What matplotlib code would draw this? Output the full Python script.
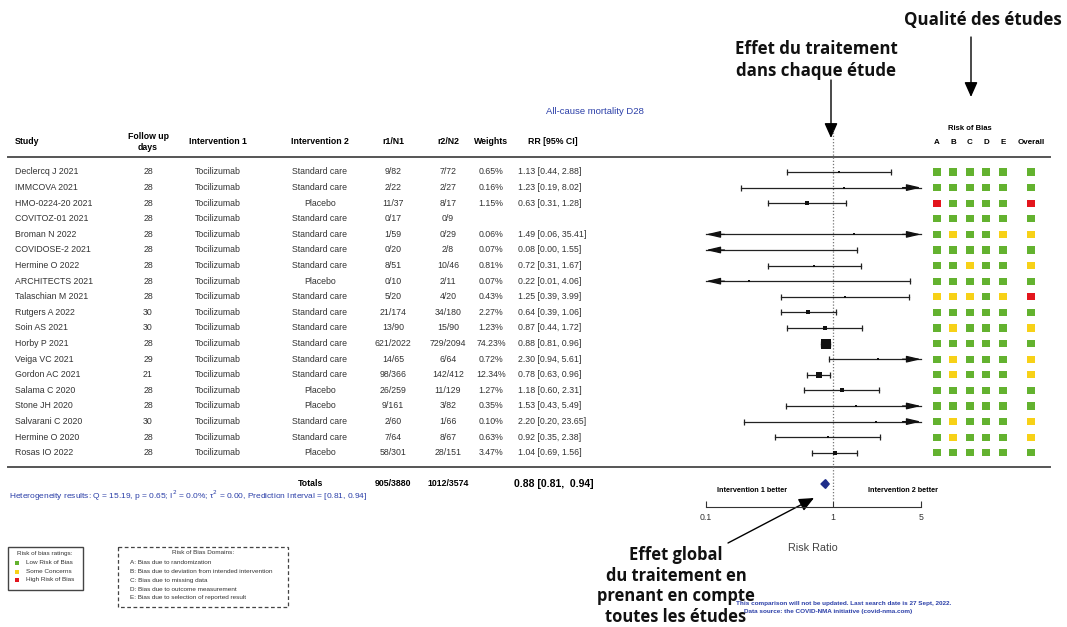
import matplotlib.pyplot as plt
import numpy as np

plt.rcParams['font.family'] = ['Liberation Sans', 'DejaVu Sans']

studies = ['Declercq J 2021', 'IMMCOVA 2021', 'HMO-0224-20 2021', 'COVITOZ-01 2021',
           'Broman N 2022', 'COVIDOSE-2 2021', 'Hermine O 2022', 'ARCHITECTS 2021',
           'Talaschian M 2021', 'Rutgers A 2022', 'Soin AS 2021', 'Horby P 2021',
           'Veiga VC 2021', 'Gordon AC 2021', 'Salama C 2020', 'Stone JH 2020',
           'Salvarani C 2020', 'Hermine O 2020', 'Rosas IO 2022']
follow_up = [28, 28, 28, 28, 28, 28, 28, 28, 28, 30, 30, 28, 29, 21, 28, 28, 30, 28, 28]
intervention1 = ['Tocilizumab'] * 19
intervention2 = ['Standard care', 'Standard care', 'Placebo', 'Standard care', 'Standard care',
                 'Standard care', 'Standard care', 'Placebo', 'Standard care', 'Standard care',
                 'Standard care', 'Standard care', 'Standard care', 'Standard care', 'Placebo',
                 'Placebo', 'Standard care', 'Standard care', 'Placebo']
r1n1 = ['9/82', '2/22', '11/37', '0/17', '1/59', '0/20', '8/51', '0/10', '5/20', '21/174',
        '13/90', '621/2022', '14/65', '98/366', '26/259', '9/161', '2/60', '7/64', '58/301']
r2n2 = ['7/72', '2/27', '8/17', '0/9', '0/29', '2/8', '10/46', '2/11', '4/20', '34/180',
        '15/90', '729/2094', '6/64', '142/412', '11/129', '3/82', '1/66', '8/67', '28/151']
weights = [0.65, 0.16, 1.15, np.nan, 0.06, 0.07, 0.81, 0.07, 0.43, 2.27,
           1.23, 74.23, 0.72, 12.34, 1.27, 0.35, 0.10, 0.63, 3.47]
rr = [1.13, 1.23, 0.63, np.nan, 1.49, 0.08, 0.72, 0.22, 1.25, 0.64,
      0.87, 0.88, 2.30, 0.78, 1.18, 1.53, 2.20, 0.92, 1.04]
ci_low = [0.44, 0.19, 0.31, np.nan, 0.06, 0.00, 0.31, 0.01, 0.39, 0.39,
          0.44, 0.81, 0.94, 0.63, 0.60, 0.43, 0.20, 0.35, 0.69]
ci_high = [2.88, 8.02, 1.28, np.nan, 35.41, 1.55, 1.67, 4.06, 3.99, 1.06,
           1.72, 0.96, 5.61, 0.96, 2.31, 5.49, 23.65, 2.38, 1.56]
# risk of bias: domains A-E then overall (L low, S some concerns, H high)
rob = ['LLLLLL', 'LLLLLL', 'HLLLLH', 'LLLLLL', 'LSLLSS', 'LLLLLL', 'LLSLLS', 'LLLLLL',
       'SSSLSH', 'LLLLLL', 'LSLLLS', 'LLLLLL', 'LSLLLS', 'LSLLLS', 'LLLLLL', 'LLLLLL',
       'LSLLLS', 'LSLLLS', 'LLLLLL']
rob_cols = ['A', 'B', 'C', 'D', 'E', 'Overall']
total_r1 = '905/3880'
total_r2 = '1012/3574'
total_rr, total_lo, total_hi = 0.88, 0.81, 0.94
domains = ['A: Bias due to randomization',
           'B: Bias due to deviation from intended intervention',
           'C: Bias due to missing data',
           'D: Bias due to outcome measurement',
           'E: Bias due to selection of reported result']
rating_labels = ['Low Risk of Bias', 'Some Concerns', 'High Risk of Bias']

W, H = 1067, 627
BLUE = '#2b3fa8'
GREY = '#333333'
rob_color = {'L': '#63b22f', 'S': '#f7d117', 'H': '#e3151d'}
XMIN, XMAX = 0.1, 5


def row_y(i):
    return 172 + 15.6 * i


def main():
    fig = plt.figure(figsize=(W / 100, H / 100), dpi=100)
    bg = fig.add_axes([0, 0, 1, 1])
    bg.set_xlim(0, W)
    bg.set_ylim(H, 0)
    bg.axis('off')

    fs = 6.3
    # header
    bg.text(15, 142, 'Study', fontsize=fs, fontweight='bold', va='center')
    bg.text(148, 142, 'Follow up\ndays', fontsize=fs, fontweight='bold', ha='center', va='center',
            linespacing=1.3)
    for x, lab in [(218, 'Intervention 1'), (320, 'Intervention 2'), (393, 'r1/N1'),
                   (448, 'r2/N2'), (491, 'Weights'), (553, 'RR [95% CI]')]:
        bg.text(x, 142, lab, fontsize=fs, fontweight='bold', ha='center', va='center')
    bg.plot([8, 1050], [157, 157], color='#555555', lw=1.4)
    bg.plot([8, 1050], [467, 467], color='#555555', lw=1.4)

    bg.text(595, 112, 'All-cause mortality D28', fontsize=6.8, color=BLUE, ha='center', va='center')

    # table rows
    for i in range(len(studies)):
        y = row_y(i)
        kw = dict(fontsize=fs, va='center', color=GREY)
        bg.text(15, y, studies[i], **kw)
        bg.text(148, y, str(follow_up[i]), ha='center', **kw)
        bg.text(218, y, intervention1[i], ha='center', **kw)
        bg.text(320, y, intervention2[i], ha='center', **kw)
        bg.text(393, y, r1n1[i], ha='center', **kw)
        bg.text(448, y, r2n2[i], ha='center', **kw)
        if not np.isnan(weights[i]):
            bg.text(491, y, f'{weights[i]:.2f}%', ha='center', **kw)
            bg.text(518, y, f'{rr[i]:.2f} [{ci_low[i]:.2f}, {ci_high[i]:.2f}]', **kw)

    # totals
    bg.text(311, 483, 'Totals', fontsize=fs, fontweight='bold', ha='center', va='center')
    bg.text(393, 483, total_r1, fontsize=fs, fontweight='bold', ha='center', va='center')
    bg.text(448, 483, total_r2, fontsize=fs, fontweight='bold', ha='center', va='center')
    bg.text(514, 484, f'{total_rr:.2f} [{total_lo:.2f},  {total_hi:.2f}]', fontsize=7.5,
            fontweight='bold', va='center')
    bg.text(9, 496, 'Heterogeneity results: Q = 15.19, p = 0.65; I$^2$ = 0.0%; '
            '\u03c4$^2$ = 0.00, Prediction Interval = [0.81, 0.94]',
            fontsize=6, color=BLUE, va='center')

    # risk of bias grid
    bg.text(970, 129, 'Risk of Bias', fontsize=5.5, fontweight='bold', ha='center', va='center')
    rob_x = [937, 953, 970, 986, 1003, 1031]
    for x, lab in zip(rob_x, rob_cols):
        bg.text(x, 142, lab, fontsize=5.8, fontweight='bold', ha='center', va='center')
    for j, x in enumerate(rob_x):
        ys = [row_y(i) for i in range(len(rob))]
        cs = [rob_color[r[j]] for r in rob]
        bg.scatter([x] * len(ys), ys, marker='s', s=26, c=cs, linewidths=0)

    # forest plot axes
    y_top, y_bot = 130, 507
    fax = fig.add_axes([706 / W, 1 - y_bot / H, (921 - 706) / W, (y_bot - y_top) / H])
    fax.patch.set_alpha(0)
    fax.set_xscale('log')
    fax.set_xlim(XMIN, XMAX)
    fax.set_ylim((y_bot - 172) / 15.6, (y_top - 172) / 15.6)
    for s in ['top', 'left', 'right']:
        fax.spines[s].set_visible(False)
    fax.spines['bottom'].set_color(GREY)
    fax.set_yticks([])
    fax.set_xticks([0.1, 1, 5])
    fax.set_xticklabels(['0.1', '1', '5'])
    fax.minorticks_off()
    fax.tick_params(axis='x', direction='in', length=4, labelsize=6.3, colors=GREY, pad=4)
    fax.axvline(1, ymin=0.02, ymax=1.0, color='#777777', lw=0.9, ls=(0, (1, 1.5)), zorder=1)

    for i in range(len(studies)):
        if np.isnan(rr[i]):
            continue
        lo = max(ci_low[i], XMIN)
        hi = min(ci_high[i], XMAX)
        fax.plot([lo, hi], [i, i], color='#222222', lw=0.9, clip_on=False)
        aprops = dict(arrowstyle='-|>,head_length=0.85,head_width=0.2', color='#111111', lw=0.9,
                      shrinkA=0, shrinkB=0)
        if ci_low[i] < XMIN:
            fax.annotate('', xy=(XMIN, i), xytext=(XMIN * 1.4, i), arrowprops=aprops,
                         annotation_clip=False)
        else:
            fax.plot(lo, i, marker='|', ms=5, color='#222222', mew=0.9, clip_on=False)
        if ci_high[i] > XMAX:
            fax.annotate('', xy=(XMAX, i), xytext=(XMAX / 1.4, i), arrowprops=aprops,
                         annotation_clip=False)
        else:
            fax.plot(hi, i, marker='|', ms=5, color='#222222', mew=0.9, clip_on=False)
        if rr[i] >= XMIN:
            fax.plot(rr[i], i, marker='s', ms=1.6 + 0.62 * np.sqrt(weights[i]), color='#111111',
                     mew=0, zorder=3)

    ty = (484 - 172) / 15.6
    h = 0.28
    fax.fill([total_lo, total_rr, total_hi, total_rr], [ty, ty - h, ty, ty + h],
             color='#1f2e8a', zorder=3, clip_on=False)

    bg.text(752, 490, 'Intervention 1 better', fontsize=5.2, fontweight='bold', ha='center',
            va='center')
    bg.text(903, 490, 'Intervention 2 better', fontsize=5.2, fontweight='bold', ha='center',
            va='center')
    bg.text(813, 548, 'Risk Ratio', fontsize=7.8, color='#444444', ha='center', va='center')

    # rating legend
    bg.add_patch(plt.Rectangle((8, 547), 75, 43, fill=False, ec='#444444', lw=1))
    bg.text(45, 553, 'Risk of bias ratings:', fontsize=4.6, ha='center', va='center', color=GREY)
    for k, (lab, c) in enumerate(zip(rating_labels, ['L', 'S', 'H'])):
        bg.scatter(17, 563 + 8.5 * k, marker='s', s=12, c=rob_color[c], linewidths=0)
        bg.text(26, 563 + 8.5 * k, lab, fontsize=4.6, va='center', color=GREY)

    bg.add_patch(plt.Rectangle((118, 547), 170, 60, fill=False, ec='#444444', lw=0.9,
                               ls=(0, (3, 2))))
    bg.text(203, 553, 'Risk of Bias Domains:', fontsize=4.6, ha='center', va='center', color=GREY)
    for k, d in enumerate(domains):
        bg.text(130, 563 + 8.7 * k, d, fontsize=4.6, va='center', color=GREY)

    bg.text(736, 603, 'This comparison will not be updated. Last search date is 27 Sept, 2022.',
            fontsize=4.6, fontweight='bold', color=BLUE, va='center')
    bg.text(744, 612, 'Data source: the COVID-NMA initiative (covid-nma.com)',
            fontsize=4.6, fontweight='bold', color=BLUE, va='center')

    # annotations
    ann = dict(family=['Open Sans', 'DejaVu Sans'], fontweight='bold', ha='center',
               va='center', color='#111111')
    bg.text(983, 20, 'Qualité des études', fontsize=12.2, **ann)
    bg.text(816, 60, 'Effet du traitement\ndans chaque étude', fontsize=12.2, linespacing=1.29,
            **ann)
    bg.text(676, 586, 'Effet global\ndu traitement en\nprenant en compte\ntoutes les études',
            fontsize=11.9, linespacing=1.2, **ann)
    arr = dict(arrowstyle='-|>,head_length=0.9,head_width=0.4', color='black', lw=1,
               shrinkA=0, shrinkB=0)
    bg.annotate('', xy=(971, 97), xytext=(971, 37), arrowprops=arr)
    bg.annotate('', xy=(831, 138), xytext=(831, 80), arrowprops=arr)
    bg.annotate('', xy=(814, 498), xytext=(728, 543), arrowprops=arr)

    fig.savefig('out.png', dpi=100, facecolor='white')


if __name__ == '__main__':
    main()
